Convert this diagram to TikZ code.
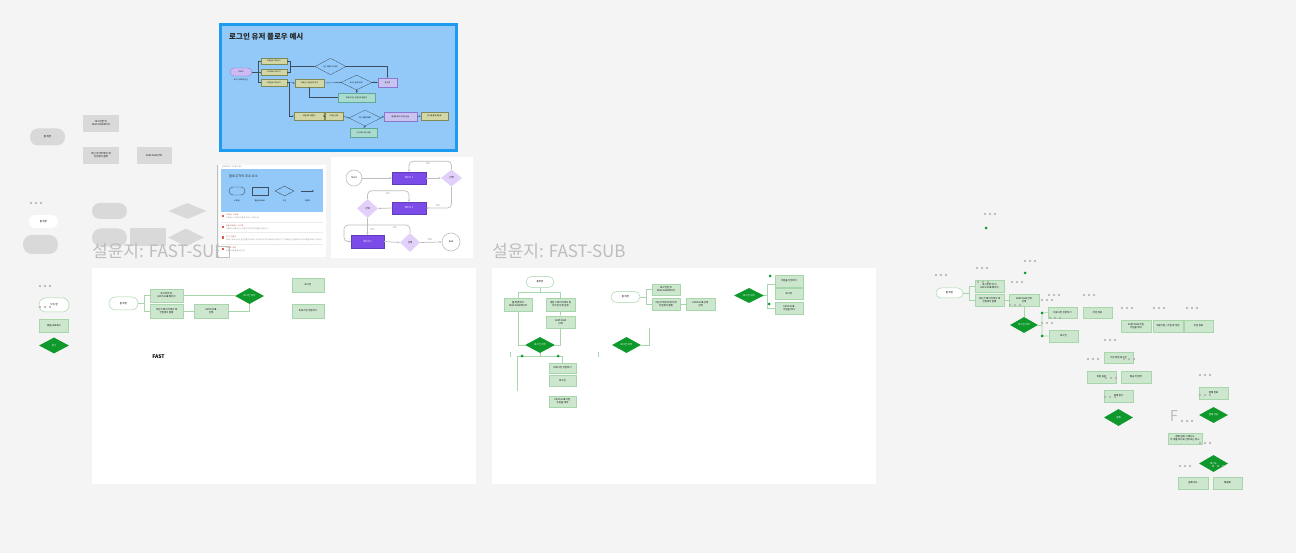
\documentclass[tikz,border=0pt]{standalone}
\usepackage{fontspec}
\setmainfont{Noto Sans CJK KR}
\usetikzlibrary{shapes.geometric,arrows.meta,calc}
\definecolor{bgc}{HTML}{F4F4F4}
\definecolor{gfill}{HTML}{CCE7CE}
\definecolor{gline}{HTML}{A6D6AA}
\definecolor{gdark}{HTML}{0F982B}
\definecolor{greyn}{HTML}{D9D9D9}
\definecolor{dotc}{HTML}{ABABAB}
\definecolor{sky}{HTML}{92C9F8}
\definecolor{skyb}{HTML}{1D9BF0}
\definecolor{khaki}{HTML}{D3D7A6}
\definecolor{khakib}{HTML}{7F8A5A}
\definecolor{lavc}{HTML}{CDBAF3}
\definecolor{lavb}{HTML}{8C76D0}
\definecolor{purc}{HTML}{C9C3EF}
\definecolor{cteal}{HTML}{A9DCCF}
\definecolor{ctealb}{HTML}{5FA898}
\definecolor{cvio}{HTML}{7B4CE8}
\definecolor{lilac}{HTML}{E2D0FA}
\definecolor{titleg}{HTML}{BDBDBD}
\definecolor{flowl}{HTML}{BEBEBE}
\definecolor{ink}{HTML}{3E4E5E}
\definecolor{redi}{HTML}{E05A4E}
\definecolor{txtg}{HTML}{8A8A8A}
\newcommand\tridots[2]{\foreach \k in {0,1,2}{\fill[dotc] ({#1+5*\k},#2) circle (1.1pt);}}
\tikzset{
  base/.style={inner sep=0pt, align=center, font=\fontsize{2.4}{2.9}\selectfont},
  sz/.style 2 args={minimum width=#1pt, minimum height=#2pt},
  gbox/.style={base, rectangle, fill=gfill, draw=gline, line width=0.6pt},
  gpill/.style={base, rectangle, fill=white, draw=gline, line width=0.5pt},
  gdia/.style={base, diamond, fill=gdark, text=white},
  greybox/.style={base, rectangle, fill=greyn},
  greypill/.style={base, rectangle, fill=greyn},
  greydia/.style={diamond, fill=greyn, inner sep=0pt},
  conn/.style={draw=gline, line width=0.6pt},
  tiny/.style={inner sep=0pt, align=center, font=\fontsize{1.8}{2.2}\selectfont},
  kbox/.style={tiny, rectangle, fill=khaki, draw=khakib, line width=0.3pt},
  pbox/.style={tiny, rectangle, fill=purc, draw=lavb, line width=0.3pt},
  tbox/.style={tiny, rectangle, fill=cteal, draw=ctealb, line width=0.3pt},
  kdia/.style={tiny, diamond, fill=sky, draw=ink, line width=0.3pt},
  bl/.style={draw=ink, line width=0.35pt},
  ba/.style={bl, -{Stealth[length=1.6pt,width=1.3pt]}},
  fl/.style={draw=flowl, line width=0.7pt, rounded corners=4pt, -{Stealth[length=2.4pt,width=2pt]}},
  flab/.style={inner sep=0pt, font=\fontsize{2.4}{2.8}\selectfont, text=txtg},
}
\begin{document}
\begin{tikzpicture}[x=1pt,y=-1pt]
\fill[bgc] (0,0) rectangle (1296,553);
\useasboundingbox (0,0) rectangle (1296,553);

% ---------- top-left grey nodes ----------
\node[greypill, rounded corners=8pt, sz={35}{17}] (g1) at (47.5,137) {홈 화면};
\node[greybox, sz={36}{17}] (g2) at (101,123.5) {로그인한 뒤\\FAST-SUB 페이지};
\node[greybox, sz={36}{17}] (g3) at (101,155.5) {어딘가(아무데서) 에\\진입해서 결제};
\node[greybox, sz={35}{17}] (g4) at (154,155.5) {FAST-SUB 선택};
\tridots{31}{203}
\node[base, fill=white, rounded corners=6.5pt, sz={29}{13}] (g5) at (43.5,221.5) {홈 화면};
\node[greypill, rounded corners=9pt, sz={35}{19}] (g6) at (40.5,244.5) {};
\node[greypill, rounded corners=8pt, sz={35}{16}] (g7) at (109.5,211) {};
\node[greypill, rounded corners=9pt, sz={35}{18}] (g8) at (109.5,237.5) {};
\node[greybox, sz={36}{18}] (g9) at (148,237.5) {};
\node[greydia, sz={38}{16}] (g10) at (187.5,211) {};
\node[greydia, sz={36}{18}] (g11) at (186,237.5) {};

\tridots{40}{286}
\node[gpill, rounded corners=6.5pt, sz={30}{14}] (k1) at (54,305) {시작/끝};
\tridots{40}{307}
\node[gbox, sz={29}{13}] (k2) at (54,326) {행동/프로세스};
\node[gdia, sz={30}{16}] (k3) at (54,345.5) {분기};

% ---------- white panels ----------
\fill[white] (92,268) rectangle (476,484);
\fill[white] (492,268) rectangle (876,484);

% section titles
\node[anchor=west, text=titleg, font=\fontsize{17}{17}\selectfont, inner sep=0pt] (st1) at (92,251) {설윤지: FAST-SUB};
\node[anchor=west, text=titleg, font=\fontsize{17}{17}\selectfont, inner sep=0pt] (st2) at (492,251) {설윤지: FAST-SUB};

% ---------- left panel ----------
\node[gpill, rounded corners=6.5pt, sz={29}{13}] (lp) at (123.5,303.5) {홈 화면};
\node[gbox, sz={33}{13}] (l1) at (166.5,295.5) {로그인한 뒤\\FAST-SUB 페이지};
\node[gbox, sz={33}{14}] (l2) at (166.5,311) {어딘가 페이지에서 에\\진입해서 결제};
\node[gbox, sz={34}{14}] (l3) at (211,311) {FAST-SUB\\선택};
\node[gdia, sz={29}{16}] (ld) at (249.5,296) {로그인 여부};
\node[gbox, sz={32}{14}] (l4) at (308,285) {로그인};
\node[gbox, sz={32}{14}] (l5) at (308,311) {비로그인 주문하기};
\node[inner sep=0pt, font=\bfseries\fontsize{5}{5}\selectfont] (lf) at (158.5,357) {FAST};
\draw[conn] (lp.east) -- ++(6,0) |- (l1.west);
\draw[conn] (lp.east) -- ++(6,0) |- (l2.west);
\draw[conn] (l1.east) -- (l1.east -| ld.west);
\draw[conn] (l2.east) -- (l3.west);
\draw[conn] (l3.east) -| (ld.south);

% ---------- middle panel ----------
\node[gpill, rounded corners=5.5pt, sz={28}{11}] (mp) at (540,282) {홈화면};
\node[gbox, sz={28}{13}] (ma) at (518,304.5) {홈 화면에서\\FAST-SUB 페이지};
\node[gbox, sz={29}{13}] (mb) at (560.5,304.5) {게임 스테이지에서 및\\추가된 다른 종류};
\node[gbox, sz={29}{12}] (mc) at (560.5,322) {FAST-SUB\\선택};
\node[gdia, sz={30}{16}] (md) at (540,345) {로그인 여부};
\node[gpill, rounded corners=5.5pt, sz={29}{11}] (mp2) at (625.5,297) {홈 화면};
\node[gbox, sz={28}{11}] (me) at (666,289.5) {로그인한 뒤\\FAST-SUB 페이지};
\node[gbox, sz={28}{12}] (mf) at (666,304) {어딘가 페이지에서 에\\진입해서 결제};
\node[gbox, sz={29}{12}] (mg) at (700.5,304) {FAST-SUB 선택\\선택};
\node[gdia, sz={29}{16}] (md2) at (626.5,345) {로그인 여부};
\node[gdia, sz={30}{15}] (md3) at (749,295.5) {로그인 여부};
\node[gbox, sz={28}{12}] (mh) at (789,281) {주문을 진행하기};
\node[gbox, sz={28}{11}] (mi) at (789,293.5) {로그인};
\node[gbox, sz={28}{12}] (mj) at (789,308) {FAST-SUB\\가입을 해야};
\node[gbox, sz={27}{10}] (mk) at (562.5,368) {비로그인 주문하기};
\node[gbox, sz={27}{11}] (ml) at (562.5,380.5) {로그인};
\node[gbox, sz={27}{11}] (mm) at (562.5,401.5) {FAST-SUB 가입\\주문을 해야};
\draw[conn] (mp.south) -- ++(0,5) coordinate (m1);
\draw[conn] (ma.north) |- (m1) -| (mb.north);
\draw[conn, -{Stealth[length=1.6pt]}] (mb.south) -- (mc.north);
\draw[conn] (ma.south) |- (md.west);
\draw[conn] (mc.south) |- (md.east);
\coordinate (m2l) at (517,356);
\coordinate (m2r) at (562,356);
\coordinate (m2b) at (517,391);
\draw[conn] (md.south) -- (md.south |- m2l);
\draw[conn] (m2b) -- (m2l) -- (m2r) -- (mk.north -| m2r);
\fill[gdark] (522,356) circle (1.5pt);
\fill[gdark] (558,356) circle (1.5pt);
\draw[gline, line width=0.5pt] (510,352) -- (510,357);
\draw[gline, line width=0.5pt] (598,352) -- (598,357);
\draw[conn] (mp2.east) -- ++(6,0) |- (me.west);
\draw[conn] (mp2.east) -- ++(6,0) |- (mf.west);
\draw[conn] (mf.east) -- (mg.west);
\coordinate (m3) at (649,328);
\draw[conn] (md2.east) -| (m3);
\coordinate (m5) at (767,284);
\coordinate (m6) at (767,308);
\draw[conn] (md3.east) -- (md3.east -| m5);
\draw[conn] (mh.west |- m5) -- (m5) -- (m6) -- (mj.west |- m6);
\fill[gdark] (770,276) circle (1.5pt);
\fill[gdark] (769,304) circle (1.5pt);

% ---------- right area ----------
\tridots{985}{214}
\fill[gdark] (986,228) circle (1.5pt);
\tridots{1025}{261}
\fill[gdark] (1025,273) circle (1.5pt);
\tridots{977}{268}
\tridots{936}{275}
\node[gpill, rounded corners=5pt, sz={27}{10}] (rp) at (949.5,293) {홈 화면};
\node[gbox, sz={29}{12}] (r1) at (989.5,286) {로그인한 뒤 이\\FAST-SUB 페이지};
\node[gbox, sz={29}{12}] (r2) at (989.5,300) {어딘가 페이지에서 에\\진입해서 결제};
\node[gbox, sz={30}{12}] (r3) at (1024,300) {FAST-SUB 선택\\선택};
\node[gdia, sz={28}{16}] (rd) at (1024,325) {로그인 여부};
\node[gbox, sz={29}{11}] (r4) at (1062.5,312.5) {비로그인 주문하기};
\node[gbox, sz={29}{11}] (r5) at (1097.5,312.5) {주문 정보};
\node[gbox, sz={29}{12}] (r6) at (1063.5,336) {로그인};
\node[gbox, sz={30}{12}] (r7) at (1136,326) {FAST-SUB 가입\\가입을 해야};
\node[gbox, sz={30}{12}] (r8) at (1168,326) {회원가입 / 가입 후 주문};
\node[gbox, sz={29}{12}] (r9) at (1198.5,326) {주문 완료};
\draw[conn] (rp.east) -- ++(6,0) |- (r1.west);
\draw[conn] (rp.east) -- ++(6,0) |- (r2.west);
\draw[conn] (r2.east) -- (r3.west);
\draw[conn] (r3.south) -- (rd.north);
\coordinate (ra) at (1042,313);
\coordinate (rb) at (1042,336);
\draw[conn] (rd.east) -- (rd.east -| ra);
\draw[conn] (r4.west) -- (ra) -- (rb) -- (r6.west);
\fill[gdark] (ra) circle (1.5pt);
\fill[gdark] (rb) circle (1.5pt);
\tridots{978}{282}
\tridots{1012}{282}
\tridots{1010}{305}
\tridots{1049}{295}
\tridots{1042}{300}
\tridots{1050}{318}
\tridots{1084}{295}
\tridots{1042}{323}
\tridots{1122}{308}
\tridots{1154}{308}
\tridots{1187}{308}
\tridots{1105}{340}

\node[gbox, sz={29}{11}] (s1) at (1118.5,357.5) {기존 회원 로그인};
\node[gbox, sz={29}{12}] (s2) at (1101.5,377) {회원 등급};
\node[gbox, sz={30}{12}] (s3) at (1136,377) {배송지 입력};
\node[gbox, sz={29}{12}] (s4) at (1118.5,396) {결제 방식};
\node[gdia, sz={29}{17}] (s5) at (1118.5,417.5) {결제};
\tridots{1088}{359}
\tridots{1124}{359}
\tridots{1106}{378}
\tridots{1105}{397}
\node[inner sep=0pt, text=titleg, font=\fontsize{15}{15}\selectfont] (bigf) at (1174,416) {F};
\tridots{1182}{421}
\tridots{1200}{375}
\node[gbox, sz={29}{12}] (t1) at (1213.5,393) {결제 완료};
\tridots{1200}{395}
\node[gdia, sz={29}{16}] (t2) at (1213.5,415) {결제 성공};
\node[gbox, sz={34}{11}] (t3) at (1185,438.5) {결제 실패 시 재시도\\두 개를 하나로 선택 또는 취소};
\tridots{1200}{443}
\node[gdia, sz={29}{17}] (t4) at (1213.5,463.5) {재시도};
\tridots{1180}{466}
\tridots{1213}{466}
\node[gbox, sz={30}{12}] (t5) at (1193,483) {결제 취소};
\node[gbox, sz={29}{12}] (t6) at (1227.5,483) {재결제};

% ---------- blue frame ----------
\draw[skyb, line width=3pt, fill=sky] (220.5,24.5) rectangle (456.5,150.5);
\node[anchor=west, inner sep=0pt, font=\bfseries\fontsize{7.5}{7.5}\selectfont, text=black!85] (bt) at (229,37) {로그인 유저 플로우 예시};
\node[tiny, rectangle, rounded corners=4pt, fill=lavc, draw=lavb, line width=0.3pt, sz={22}{8}] (bs) at (241,72) {START};
\node[tiny, inner sep=0pt] (bsl) at (241,80) {로그인 페이지 진입};
\node[kbox, sz={26}{6}] (b1) at (274,61) {이메일로 계속하기};
\node[kbox, sz={26}{6}] (b2) at (274,72) {카카오로 계속하기};
\node[kbox, sz={26}{7}] (b3) at (274,82.5) {이메일로 계속하기};
\node[kdia, sz={31}{13}] (bda) at (330.5,66.5) {기존 계정이 있나요?};
\node[kbox, sz={29}{8}] (b4) at (309.5,83) {이메일 / 비밀번호 입력};
\node[kdia, sz={31}{11}] (bdb) at (356.5,82.5) {로그인 정보 일치?};
\node[pbox, sz={19}{9}] (bp1) at (387.5,82.5) {홈 화면};
\node[tbox, sz={37}{9}] (bt1) at (356.5,97.5) {이메일 또는 비밀번호 불일치};
\node[kbox, sz={30}{8}] (b5) at (309,116) {비밀번호 재설정};
\node[kbox, sz={18}{8}] (b6) at (334,116) {이메일 입력};
\node[kdia, sz={32}{16}] (bdc) at (365,118) {가입 계정이에요?};
\node[pbox, sz={33}{9}] (bp2) at (400.5,116.5) {재설정 링크 이메일 전송};
\node[kbox, sz={27}{8}] (b7) at (434.5,116) {링크를 통해 재설정};
\node[tbox, sz={27}{9}] (bt2) at (363.5,132.5) {가입되지 않은 계정};
\coordinate (bj) at (290,66.5);
\draw[bl] (bs.east) -- ++(6,0) |- (b1.west);
\draw[bl] (bs.east) -- ++(6,0) |- (b2.west);
\draw[bl] (bs.east) -- ++(6,0) |- (b3.west);
\draw[bl] (b1.east) -| (bj);
\draw[bl] (b2.east) -| (bj);
\draw[ba] (bj) -- (bda.west);
\draw[ba] (bda.east) -| (bp1.north);
\draw[ba] (b3.east) -- (b4.west);
\draw[ba] (b3.east) -- ++(2,0) |- (b5.west);
\draw[ba] (b4.east) -- (bdb.west);
\draw[ba] (bdb.east) -- node[above, tiny, pos=0.4, yshift=-0.5pt] {Y} (bp1.west);
\draw[ba] (bdb.south) -- node[right, tiny, xshift=0.5pt] {N} (bt1.north);
\draw[ba] (bt1.west) -| (b4.south);
\draw[ba] (b5.east) -- (b6.west);
\draw[ba] (b6.east) -- (bdc.west);
\draw[ba] (bdc.east) -- node[above, tiny, pos=0.4, yshift=-0.5pt] {Y} (bp2.west);
\draw[ba] (bp2.east) -- (b7.west);
\draw[ba] (bdc.south) -- node[right, tiny, xshift=0.5pt] {N} (bt2.north);

% ---------- legend card ----------
\fill[white] (219,165) rectangle (326,257);
\draw[black!25, line width=0.6pt] (217.5,165) -- (217.5,257);
\node[anchor=west, tiny, text=txtg] (lgt) at (222,167) {플로우차트 기호 정리 예시};
\fill[sky] (221,169) rectangle (323,212);
\node[anchor=west, inner sep=0pt, font=\fontsize{3.3}{3.5}\selectfont, text=black!80] (lgh) at (229,176) {플로우차트 주요 요소};
\node[draw=ink, line width=0.4pt, rounded corners=4pt, sz={16}{8}, inner sep=0pt] (lg1) at (237,191) {};
\node[draw=ink, line width=0.4pt, sz={16}{8}, inner sep=0pt] (lg2) at (260,191) {};
\node[draw=ink, line width=0.4pt, diamond, sz={19}{10}, inner sep=0pt] (lg3) at (284.5,191) {};
\coordinate (lga) at (301,191);
\coordinate (lgb) at (314,191);
\draw[ink, line width=0.4pt, -{Stealth[length=2pt,width=1.6pt]}] (lga) -- (lgb);
\node[tiny] (lgl1) at (237,201) {시작/끝};
\node[tiny] (lgl2) at (260,201) {행동/프로세스};
\node[tiny] (lgl3) at (284.5,201) {조건};
\node[tiny] (lgl4) at (307.5,201) {화살표};
\foreach \yy/\ti/\tx in {216/{시작/끝 : 타원형}/{프로세스의 시작과 끝을 표시하는 기호입니다},
  227/{행동/프로세스 : 사각형}/{사용자의 행동이나 시스템이 처리하는 작업을 나타냅니다},
  237.5/{조건 : 마름모}/{예/아니오로 나뉘는 분기점을 나타내며, 조건에 따라 다른 경로로 이동합니다. 각 경로에는 결과를 표시하고 흐름을 이어서 그립니다},
  249/{화살표 : 흐름}/{흐름의 방향을 표시합니다}}{
  \fill[redi] (221.8,\yy-1.2) rectangle (224.2,\yy+1.2);
  \node[anchor=west, tiny, text=redi!80!black] at (226,\yy-0.8) {\ti};
  \node[anchor=west, tiny, text=txtg] at (226,\yy+2.2) {\tx};
}
\draw[black!8, line width=0.4pt] (221,222) -- (323,222);
\draw[black!8, line width=0.4pt] (221,232.5) -- (323,232.5);
\draw[black!8, line width=0.4pt] (221,244) -- (323,244);
\draw[black!25, line width=0.6pt] (216.5,246) rectangle (229,257);

% ---------- flow card ----------
\fill[white] (331,157) rectangle (473,258);
\node[base, circle, draw=flowl, line width=0.6pt, fill=white, minimum size=16pt] (fs) at (354,178) {Start};
\node[base, fill=cvio, text=white, draw=cvio!80!black, line width=0.3pt, sz={34}{12}] (fp1) at (409,178) {페이지 1};
\node[base, diamond, fill=lilac, sz={21}{17}] (fd1) at (451.5,178) {선택};
\node[base, fill=cvio, text=white, draw=cvio!80!black, line width=0.3pt, sz={34}{12}] (fp2) at (409,208) {페이지 2};
\node[base, diamond, fill=lilac, sz={21}{19}] (fd2) at (367.5,208.5) {선택};
\node[base, fill=cvio, text=white, draw=cvio!80!black, line width=0.3pt, sz={33}{13}] (fp3) at (367.5,241.5) {페이지 3};
\node[base, diamond, fill=lilac, sz={20}{19}] (fd3) at (410,242.5) {선택};
\node[base, circle, draw=flowl, line width=0.6pt, fill=white, minimum size=18pt] (fe) at (451,242) {End};
\coordinate (c3) at (344,225);
\draw[fl] (fs) -- (fp1);
\draw[fl] (fp1) -- (fd1);
\draw[fl] (fd1.north) -- ++(0,-8) -| (fp1.north);
\node[flab] (n1) at (428,163.5) {NO};
\draw[fl] (fd1.south) |- (fp2.east);
\node[flab] (n2) at (438,206) {YES};
\draw[fl] (fp2.west) -- (fd2.east);
\draw[fl] (fd2.north) -- ++(0,-8) -| (fp2.north);
\node[flab] (n3) at (388,193.5) {NO};
\draw[fl] (fd2.south) -- (fp3.north);
\node[flab] (n4) at (372.5,229.5) {YES};
\draw[fl] (fp3.east) -- (fd3.west);
\draw[fl] (fd3.north) |- (c3) |- (fp3.west);
\node[flab] (n5) at (395,227.5) {NO};
\draw[fl] (fd3.east) -- (fe.west);
\node[flab] (n6) at (430,240) {YES};
\end{tikzpicture}
\end{document}
